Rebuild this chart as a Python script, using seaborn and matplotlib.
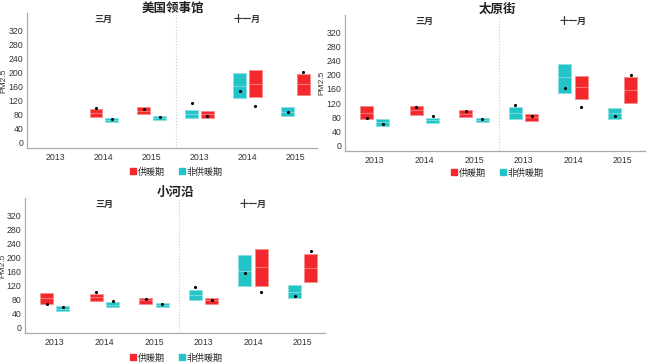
import numpy as np
import matplotlib
matplotlib.use("Agg")
import matplotlib.pyplot as plt
from matplotlib.lines import Line2D
import seaborn as sns

sns.set_style("white")
plt.rcParams['font.family'] = ['Liberation Sans', 'Noto Sans CJK SC']

# 分组: 三月 2013-2015, 十一月 2013-2015
years = ["2013", "2014", "2015"]
months = ["三月", "十一月"]
periods = ["供暖期", "非供暖期"]
sites = ["美国领事馆", "太原街", "小河沿"]
nan = np.nan

# 美国领事馆
us_heat_q1 = [nan, 73, 81, 70, 131, 135]
us_heat_med = [nan, 85, 91, 80, 168, 167]
us_heat_q3 = [nan, 96, 100, 90, 207, 197]
us_heat_mean = [nan, 97, 95, 76, 105, 202]
us_non_q1 = [nan, 57, 64, 69, 126, 76]
us_non_med = [nan, 64, 70, 82, 162, 88]
us_non_q3 = [nan, 71, 75, 93, 198, 102]
us_non_mean = [nan, 68, 72, 114, 147, 86]

# 太原街
ty_heat_q1 = [75, 85, 80, 70, 132, 121]
ty_heat_med = [93, 99, 89, 80, 165, 157]
ty_heat_q3 = [111, 112, 99, 88, 198, 193]
ty_heat_mean = [77, 108, 97, 82, 108, 201]
ty_non_q1 = [56, 63, 66, 75, 149, 75]
ty_non_med = [65, 71, 72, 93, 193, 92]
ty_non_q3 = [74, 79, 79, 110, 232, 105]
ty_non_mean = [62, 82, 76, 115, 164, 84]

# 小河沿
xh_heat_q1 = [68, 75, 68, 66, 118, 129]
xh_heat_med = [84, 87, 77, 77, 172, 170]
xh_heat_q3 = [99, 96, 84, 85, 224, 210]
xh_heat_mean = [68, 101, 81, 79, 101, 218]
xh_non_q1 = [46, 58, 59, 79, 117, 85]
xh_non_med = [54, 65, 65, 94, 162, 101]
xh_non_q3 = [60, 73, 70, 108, 207, 122]
xh_non_mean = [57, 75, 68, 115, 155, 90]

site_data = {
    "美国领事馆": [(us_heat_q1, us_heat_med, us_heat_q3, us_heat_mean),
              (us_non_q1, us_non_med, us_non_q3, us_non_mean)],
    "太原街": [(ty_heat_q1, ty_heat_med, ty_heat_q3, ty_heat_mean),
            (ty_non_q1, ty_non_med, ty_non_q3, ty_non_mean)],
    "小河沿": [(xh_heat_q1, xh_heat_med, xh_heat_q3, xh_heat_mean),
            (xh_non_q1, xh_non_med, xh_non_q3, xh_non_mean)],
}

colors = {"供暖期": "#F2282C", "非供暖期": "#22C4C8"}
edge = {"供暖期": "#F68C8C", "非供暖期": "#8CE0E0"}
W, H = 650, 364

fig = plt.figure(figsize=(6.5, 3.64), dpi=100)


def px_axes(l, t, r, b):
    return fig.add_axes([l / W, 1 - b / H, (r - l) / W, (b - t) / H])


# (left, top, right, bottom) in pixels, title pos, legend pos, ylabel x
layout = {
    "美国领事馆": dict(box=(27, 13, 317, 148), title=(173, 8), leg=(176, 172), ylab=7),
    "太原街": dict(box=(345, 15, 645, 151), title=(497, 9), leg=(497, 173), ylab=325),
    "小河沿": dict(box=(25, 198, 325, 333), title=(175, 192), leg=(176, 358), ylab=6),
}

for site in sites:
    lay = layout[site]
    ax = px_axes(*lay["box"])
    heat, non = site_data[site]
    for pi, (period, stats) in enumerate(zip(periods, [heat, non])):
        q1, med, q3, mean = stats
        pos, bx, mx, my = [], [], [], []
        for i in range(6):
            if np.isnan(q1[i]):
                continue
            # 三月: 供暖期在左; 十一月: 非供暖期在左
            if i < 3:
                off = -0.165 if period == "供暖期" else 0.165
            else:
                off = 0.165 if period == "供暖期" else -0.165
            pos.append(i + off)
            bx.append(dict(q1=q1[i], med=med[i], q3=q3[i], whislo=q1[i],
                           whishi=q3[i], fliers=[]))
            mx.append(i + off)
            my.append(mean[i])
        ax.bxp(bx, positions=pos, widths=0.26, patch_artist=True,
               showcaps=False, showfliers=False,
               boxprops=dict(facecolor=colors[period], edgecolor=edge[period],
                             linewidth=0.6),
               medianprops=dict(color="white", alpha=0.35, linewidth=0.8),
               whiskerprops=dict(linewidth=0))
        sns.scatterplot(x=mx, y=my, color="black", s=5, linewidth=0,
                        ax=ax, legend=False, zorder=5)

    ax.axvline(2.5, color="#CCCCCC", linestyle=":", linewidth=0.8)
    ax.set_xlim(-0.6, 5.45)
    ax.set_ylim(-16, 370)
    ax.set_xticks(range(6))
    ax.set_xticklabels(years * 2, fontsize=6.3, color="#333333")
    ax.set_yticks(range(0, 321, 40))
    ax.tick_params(axis="y", labelsize=6.3, labelcolor="#333333",
                   length=1.5, pad=1, color="#AAAAAA")
    ax.tick_params(axis="x", length=1.5, pad=2, color="#AAAAAA")
    ax.set_ylabel("PM2.5", fontsize=6, color="#333333")
    l, t, r, b = lay["box"]
    ax.yaxis.set_label_coords((lay["ylab"] - l) / (r - l), 0.5)
    sns.despine(ax=ax)
    for s in ["left", "bottom"]:
        ax.spines[s].set_color("#AAAAAA")
        ax.spines[s].set_linewidth(0.9)

    tr = ax.get_xaxis_transform()
    ax.text(1, 0.955, months[0], transform=tr, ha="center", va="center",
            fontsize=6.5, fontweight="bold", color="#333333",
            family="Noto Sans CJK SC")
    ax.text(4, 0.955, months[1], transform=tr, ha="center", va="center",
            fontsize=6.5, fontweight="bold", color="#333333",
            family="Noto Sans CJK SC")

    tx, ty = lay["title"]
    fig.text(tx / W, 1 - ty / H, site, ha="center", va="center", fontsize=9,
             fontweight="bold", color="#222222", family="Noto Sans CJK SC")

    handles = [Line2D([], [], marker="s", linestyle="", markersize=4.5,
                      color=colors[p], label=p) for p in periods]
    lx, ly = lay["leg"]
    fig.legend(handles=handles, loc="center", ncol=2, frameon=False,
               bbox_to_anchor=(lx / W, 1 - ly / H), handletextpad=0.1,
               columnspacing=1.5, handlelength=0.8,
               prop=dict(family="Noto Sans CJK SC", size=6.5))

fig.savefig("out.png", dpi=100)
